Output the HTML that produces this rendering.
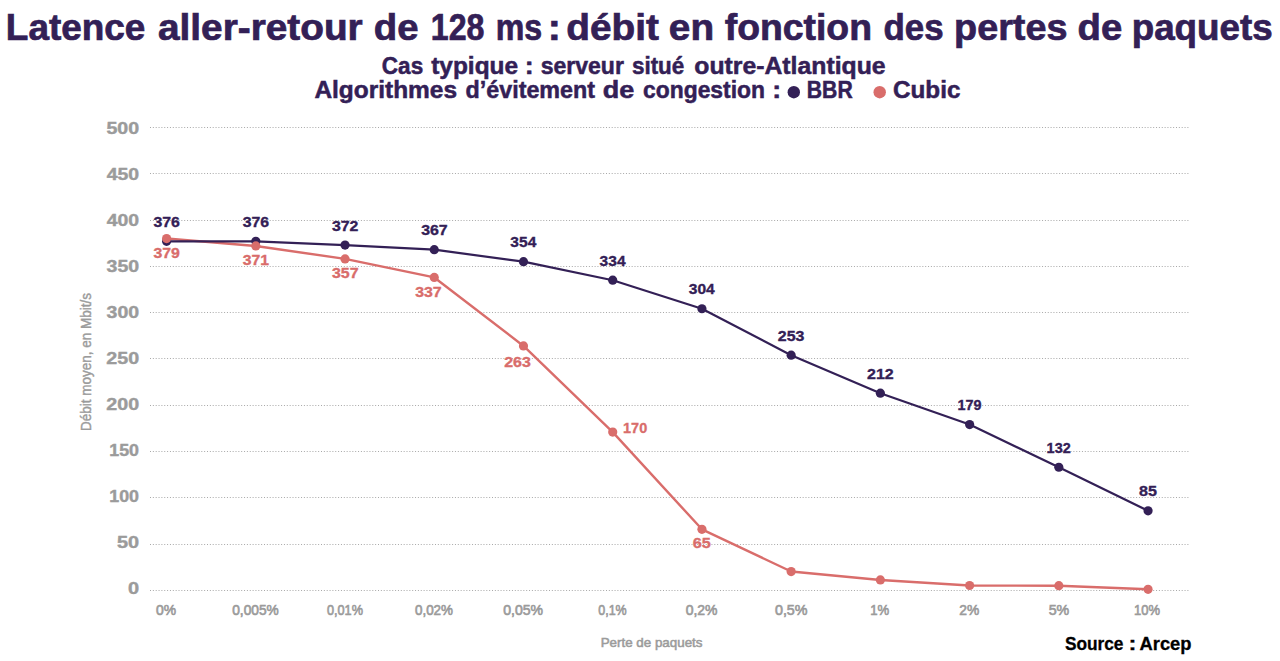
<!DOCTYPE html><html><head><meta charset="utf-8"><style>html,body{margin:0;padding:0;background:#fff;width:1280px;height:661px;overflow:hidden}svg{display:block}text{font-family:"Liberation Sans",sans-serif;white-space:pre}</style></head><body><svg width="1280" height="661" viewBox="0 0 1280 661"><text x="5.88" y="40" font-size="36" font-weight="bold" fill="#332056" stroke="#332056" stroke-width="0.7" textLength="139.53" lengthAdjust="spacingAndGlyphs">Latence</text><text x="157.96" y="40" font-size="36" font-weight="bold" fill="#332056" stroke="#332056" stroke-width="0.7" textLength="204.77" lengthAdjust="spacingAndGlyphs">aller-retour</text><text x="373.78" y="40" font-size="36" font-weight="bold" fill="#332056" stroke="#332056" stroke-width="0.7" textLength="44.68" lengthAdjust="spacingAndGlyphs">de</text><text x="430.83" y="40" font-size="36" font-weight="bold" fill="#332056" stroke="#332056" stroke-width="0.7" textLength="53.56" lengthAdjust="spacingAndGlyphs">128</text><text x="495.73" y="40" font-size="36" font-weight="bold" fill="#332056" stroke="#332056" stroke-width="0.7" textLength="46.49" lengthAdjust="spacingAndGlyphs">ms</text><text x="547.80" y="40" font-size="36" font-weight="bold" fill="#332056" stroke="#332056" stroke-width="0.7" textLength="13.14" lengthAdjust="spacingAndGlyphs">:</text><text x="566.26" y="40" font-size="36" font-weight="bold" fill="#332056" stroke="#332056" stroke-width="0.7" textLength="92.61" lengthAdjust="spacingAndGlyphs">débit</text><text x="668.84" y="40" font-size="36" font-weight="bold" fill="#332056" stroke="#332056" stroke-width="0.7" textLength="45.22" lengthAdjust="spacingAndGlyphs">en</text><text x="724.71" y="40" font-size="36" font-weight="bold" fill="#332056" stroke="#332056" stroke-width="0.7" textLength="147.25" lengthAdjust="spacingAndGlyphs">fonction</text><text x="883.42" y="40" font-size="36" font-weight="bold" fill="#332056" stroke="#332056" stroke-width="0.7" textLength="60.16" lengthAdjust="spacingAndGlyphs">des</text><text x="954.11" y="40" font-size="36" font-weight="bold" fill="#332056" stroke="#332056" stroke-width="0.7" textLength="113.34" lengthAdjust="spacingAndGlyphs">pertes</text><text x="1077.53" y="40" font-size="36" font-weight="bold" fill="#332056" stroke="#332056" stroke-width="0.7" textLength="44.68" lengthAdjust="spacingAndGlyphs">de</text><text x="1131.68" y="40" font-size="36" font-weight="bold" fill="#332056" stroke="#332056" stroke-width="0.7" textLength="140.98" lengthAdjust="spacingAndGlyphs">paquets</text><text x="381.83" y="74" font-size="23" font-weight="bold" fill="#332056" stroke="#332056" stroke-width="0.5" textLength="41.35" lengthAdjust="spacingAndGlyphs">Cas</text><text x="431.20" y="74" font-size="23" font-weight="bold" fill="#332056" stroke="#332056" stroke-width="0.5" textLength="86.88" lengthAdjust="spacingAndGlyphs">typique</text><text x="524.68" y="74" font-size="23" font-weight="bold" fill="#332056" stroke="#332056" stroke-width="0.5" textLength="8.88" lengthAdjust="spacingAndGlyphs">:</text><text x="540.69" y="74" font-size="23" font-weight="bold" fill="#332056" stroke="#332056" stroke-width="0.5" textLength="83.16" lengthAdjust="spacingAndGlyphs">serveur</text><text x="631.96" y="74" font-size="23" font-weight="bold" fill="#332056" stroke="#332056" stroke-width="0.5" textLength="52.30" lengthAdjust="spacingAndGlyphs">situé</text><text x="694.28" y="74" font-size="23" font-weight="bold" fill="#332056" stroke="#332056" stroke-width="0.5" textLength="191.31" lengthAdjust="spacingAndGlyphs">outre-Atlantique</text><text x="314.44" y="98" font-size="23" font-weight="bold" fill="#332056" stroke="#332056" stroke-width="0.5" textLength="142.56" lengthAdjust="spacingAndGlyphs">Algorithmes</text><text x="465.54" y="98" font-size="23" font-weight="bold" fill="#332056" stroke="#332056" stroke-width="0.5" textLength="129.49" lengthAdjust="spacingAndGlyphs">d’évitement</text><text x="602.89" y="98" font-size="23" font-weight="bold" fill="#332056" stroke="#332056" stroke-width="0.5" textLength="31.53" lengthAdjust="spacingAndGlyphs">de</text><text x="643.11" y="98" font-size="23" font-weight="bold" fill="#332056" stroke="#332056" stroke-width="0.5" textLength="121.81" lengthAdjust="spacingAndGlyphs">congestion</text><text x="772.18" y="98" font-size="23" font-weight="bold" fill="#332056" stroke="#332056" stroke-width="0.5" textLength="8.88" lengthAdjust="spacingAndGlyphs">:</text><text x="806.83" y="98" font-size="23" font-weight="bold" fill="#332056" stroke="#332056" stroke-width="0.5" textLength="45.85" lengthAdjust="spacingAndGlyphs">BBR</text><text x="893.00" y="98" font-size="23" font-weight="bold" fill="#332056" stroke="#332056" stroke-width="0.5" textLength="67.46" lengthAdjust="spacingAndGlyphs">Cubic</text><circle cx="793.8" cy="92.2" r="6.2" fill="#332056"/><circle cx="879.7" cy="92.2" r="6.2" fill="#d96d6b"/><line x1="150" y1="590.5" x2="1190" y2="590.5" stroke="#a8a8a8" stroke-width="1" stroke-dasharray="1 1.85"/><text x="128.01" y="594.0" font-size="16.2" font-weight="bold" fill="#9b9b9b" stroke="#9b9b9b" stroke-width="0.4" textLength="11.11" lengthAdjust="spacingAndGlyphs">0</text><line x1="150" y1="544.5" x2="1190" y2="544.5" stroke="#a8a8a8" stroke-width="1" stroke-dasharray="1 1.85"/><text x="116.99" y="548.0" font-size="16.2" font-weight="bold" fill="#9b9b9b" stroke="#9b9b9b" stroke-width="0.4" textLength="22.13" lengthAdjust="spacingAndGlyphs">50</text><line x1="150" y1="497.5" x2="1190" y2="497.5" stroke="#a8a8a8" stroke-width="1" stroke-dasharray="1 1.85"/><text x="109.28" y="501.9" font-size="16.2" font-weight="bold" fill="#9b9b9b" stroke="#9b9b9b" stroke-width="0.4" textLength="29.75" lengthAdjust="spacingAndGlyphs">100</text><line x1="150" y1="451.5" x2="1190" y2="451.5" stroke="#a8a8a8" stroke-width="1" stroke-dasharray="1 1.85"/><text x="109.28" y="455.9" font-size="16.2" font-weight="bold" fill="#9b9b9b" stroke="#9b9b9b" stroke-width="0.4" textLength="29.75" lengthAdjust="spacingAndGlyphs">150</text><line x1="150" y1="405.5" x2="1190" y2="405.5" stroke="#a8a8a8" stroke-width="1" stroke-dasharray="1 1.85"/><text x="106.32" y="409.8" font-size="16.2" font-weight="bold" fill="#9b9b9b" stroke="#9b9b9b" stroke-width="0.4" textLength="32.79" lengthAdjust="spacingAndGlyphs">200</text><line x1="150" y1="358.5" x2="1190" y2="358.5" stroke="#a8a8a8" stroke-width="1" stroke-dasharray="1 1.85"/><text x="106.32" y="363.8" font-size="16.2" font-weight="bold" fill="#9b9b9b" stroke="#9b9b9b" stroke-width="0.4" textLength="32.79" lengthAdjust="spacingAndGlyphs">250</text><line x1="150" y1="312.5" x2="1190" y2="312.5" stroke="#a8a8a8" stroke-width="1" stroke-dasharray="1 1.85"/><text x="106.55" y="317.8" font-size="16.2" font-weight="bold" fill="#9b9b9b" stroke="#9b9b9b" stroke-width="0.4" textLength="32.55" lengthAdjust="spacingAndGlyphs">300</text><line x1="150" y1="266.5" x2="1190" y2="266.5" stroke="#a8a8a8" stroke-width="1" stroke-dasharray="1 1.85"/><text x="106.55" y="271.7" font-size="16.2" font-weight="bold" fill="#9b9b9b" stroke="#9b9b9b" stroke-width="0.4" textLength="32.55" lengthAdjust="spacingAndGlyphs">350</text><line x1="150" y1="220.5" x2="1190" y2="220.5" stroke="#a8a8a8" stroke-width="1" stroke-dasharray="1 1.85"/><text x="106.71" y="225.7" font-size="16.2" font-weight="bold" fill="#9b9b9b" stroke="#9b9b9b" stroke-width="0.4" textLength="32.39" lengthAdjust="spacingAndGlyphs">400</text><line x1="150" y1="173.5" x2="1190" y2="173.5" stroke="#a8a8a8" stroke-width="1" stroke-dasharray="1 1.85"/><text x="106.71" y="179.6" font-size="16.2" font-weight="bold" fill="#9b9b9b" stroke="#9b9b9b" stroke-width="0.4" textLength="32.39" lengthAdjust="spacingAndGlyphs">450</text><line x1="150" y1="127.5" x2="1190" y2="127.5" stroke="#a8a8a8" stroke-width="1" stroke-dasharray="1 1.85"/><text x="106.40" y="133.6" font-size="16.2" font-weight="bold" fill="#9b9b9b" stroke="#9b9b9b" stroke-width="0.4" textLength="32.71" lengthAdjust="spacingAndGlyphs">500</text><text x="155.96" y="615.2" font-size="14.5" fill="#9b9b9b" stroke="#9b9b9b" stroke-width="0.65" textLength="20.04" lengthAdjust="spacingAndGlyphs">0%</text><text x="232.21" y="615.2" font-size="14.5" fill="#9b9b9b" stroke="#9b9b9b" stroke-width="0.65" textLength="46.52" lengthAdjust="spacingAndGlyphs">0,005%</text><text x="327.00" y="615.2" font-size="14.5" fill="#9b9b9b" stroke="#9b9b9b" stroke-width="0.65" textLength="35.95" lengthAdjust="spacingAndGlyphs">0,01%</text><text x="414.98" y="615.2" font-size="14.5" fill="#9b9b9b" stroke="#9b9b9b" stroke-width="0.65" textLength="38.00" lengthAdjust="spacingAndGlyphs">0,02%</text><text x="503.20" y="615.2" font-size="14.5" fill="#9b9b9b" stroke="#9b9b9b" stroke-width="0.65" textLength="39.80" lengthAdjust="spacingAndGlyphs">0,05%</text><text x="598.26" y="615.2" font-size="14.5" fill="#9b9b9b" stroke="#9b9b9b" stroke-width="0.65" textLength="28.43" lengthAdjust="spacingAndGlyphs">0,1%</text><text x="685.71" y="615.2" font-size="14.5" fill="#9b9b9b" stroke="#9b9b9b" stroke-width="0.65" textLength="31.79" lengthAdjust="spacingAndGlyphs">0,2%</text><text x="774.94" y="615.2" font-size="14.5" fill="#9b9b9b" stroke="#9b9b9b" stroke-width="0.65" textLength="32.57" lengthAdjust="spacingAndGlyphs">0,5%</text><text x="870.25" y="615.2" font-size="14.5" fill="#9b9b9b" stroke="#9b9b9b" stroke-width="0.65" textLength="18.97" lengthAdjust="spacingAndGlyphs">1%</text><text x="959.31" y="615.2" font-size="14.5" fill="#9b9b9b" stroke="#9b9b9b" stroke-width="0.65" textLength="19.94" lengthAdjust="spacingAndGlyphs">2%</text><text x="1048.68" y="615.2" font-size="14.5" fill="#9b9b9b" stroke="#9b9b9b" stroke-width="0.65" textLength="20.58" lengthAdjust="spacingAndGlyphs">5%</text><text x="1134.01" y="615.2" font-size="14.5" fill="#9b9b9b" stroke="#9b9b9b" stroke-width="0.65" textLength="25.95" lengthAdjust="spacingAndGlyphs">10%</text><text x="600.70" y="647" font-size="13.6" fill="#9b9b9b" stroke="#9b9b9b" stroke-width="0.55" textLength="101.78" lengthAdjust="spacingAndGlyphs">Perte de paquets</text><text transform="translate(91,429.8) rotate(-90)" x="-1.11" y="0" font-size="14" fill="#9b9b9b" stroke="#9b9b9b" stroke-width="0.4" textLength="137.99" lengthAdjust="spacingAndGlyphs">Débit moyen, en Mbit/s</text><text x="1064.90" y="650" font-size="18.5" font-weight="bold" fill="#000" stroke="#000" stroke-width="0.3" textLength="58.59" lengthAdjust="spacingAndGlyphs">Source</text><text x="1128.46" y="650" font-size="18.5" font-weight="bold" fill="#000" stroke="#000" stroke-width="0.3" textLength="7.93" lengthAdjust="spacingAndGlyphs">:</text><text x="1139.54" y="650" font-size="18.5" font-weight="bold" fill="#000" stroke="#000" stroke-width="0.3" textLength="51.96" lengthAdjust="spacingAndGlyphs">Arcep</text><polyline points="166.60,238.55 255.82,245.95 345.05,258.92 434.27,277.44 523.49,345.96 612.72,432.08 701.94,529.31 791.16,571.54 880.38,579.96 969.61,585.52 1058.83,585.70 1148.05,589.31" fill="none" stroke="#d96d6b" stroke-width="2.4" stroke-linejoin="round"/><polyline points="166.60,241.32 255.82,241.32 345.05,245.03 434.27,249.66 523.49,261.70 612.72,280.22 701.94,308.74 791.16,355.22 880.38,393.19 969.61,424.58 1058.83,467.27 1148.05,510.79" fill="none" stroke="#332056" stroke-width="2.2" stroke-linejoin="round"/><circle cx="166.60" cy="241.32" r="4.6" fill="#332056"/><circle cx="255.82" cy="241.32" r="4.6" fill="#332056"/><circle cx="345.05" cy="245.03" r="4.6" fill="#332056"/><circle cx="434.27" cy="249.66" r="4.6" fill="#332056"/><circle cx="523.49" cy="261.70" r="4.6" fill="#332056"/><circle cx="612.72" cy="280.22" r="4.6" fill="#332056"/><circle cx="701.94" cy="308.74" r="4.6" fill="#332056"/><circle cx="791.16" cy="355.22" r="4.6" fill="#332056"/><circle cx="880.38" cy="393.19" r="4.6" fill="#332056"/><circle cx="969.61" cy="424.58" r="4.6" fill="#332056"/><circle cx="1058.83" cy="467.27" r="4.6" fill="#332056"/><circle cx="1148.05" cy="510.79" r="4.6" fill="#332056"/><circle cx="166.60" cy="238.55" r="4.6" fill="#d96d6b"/><circle cx="255.82" cy="245.95" r="4.6" fill="#d96d6b"/><circle cx="345.05" cy="258.92" r="4.6" fill="#d96d6b"/><circle cx="434.27" cy="277.44" r="4.6" fill="#d96d6b"/><circle cx="523.49" cy="345.96" r="4.6" fill="#d96d6b"/><circle cx="612.72" cy="432.08" r="4.6" fill="#d96d6b"/><circle cx="701.94" cy="529.31" r="4.6" fill="#d96d6b"/><circle cx="791.16" cy="571.54" r="4.6" fill="#d96d6b"/><circle cx="880.38" cy="579.96" r="4.6" fill="#d96d6b"/><circle cx="969.61" cy="585.52" r="4.6" fill="#d96d6b"/><circle cx="1058.83" cy="585.70" r="4.6" fill="#d96d6b"/><circle cx="1148.05" cy="589.31" r="4.6" fill="#d96d6b"/><text x="153.49" y="226.8" font-size="15.5" font-weight="bold" fill="#332056" stroke="#332056" stroke-width="0.35" textLength="26.44" lengthAdjust="spacingAndGlyphs">376</text><text x="242.71" y="226.8" font-size="15.5" font-weight="bold" fill="#332056" stroke="#332056" stroke-width="0.35" textLength="26.44" lengthAdjust="spacingAndGlyphs">376</text><text x="331.93" y="230.5" font-size="15.5" font-weight="bold" fill="#332056" stroke="#332056" stroke-width="0.35" textLength="26.50" lengthAdjust="spacingAndGlyphs">372</text><text x="421.15" y="235.2" font-size="15.5" font-weight="bold" fill="#332056" stroke="#332056" stroke-width="0.35" textLength="26.57" lengthAdjust="spacingAndGlyphs">367</text><text x="510.39" y="247.2" font-size="15.5" font-weight="bold" fill="#332056" stroke="#332056" stroke-width="0.35" textLength="25.94" lengthAdjust="spacingAndGlyphs">354</text><text x="599.61" y="265.7" font-size="15.5" font-weight="bold" fill="#332056" stroke="#332056" stroke-width="0.35" textLength="25.94" lengthAdjust="spacingAndGlyphs">334</text><text x="688.83" y="294.2" font-size="15.5" font-weight="bold" fill="#332056" stroke="#332056" stroke-width="0.35" textLength="25.94" lengthAdjust="spacingAndGlyphs">304</text><text x="777.86" y="340.7" font-size="15.5" font-weight="bold" fill="#332056" stroke="#332056" stroke-width="0.35" textLength="26.63" lengthAdjust="spacingAndGlyphs">253</text><text x="867.08" y="378.7" font-size="15.5" font-weight="bold" fill="#332056" stroke="#332056" stroke-width="0.35" textLength="26.70" lengthAdjust="spacingAndGlyphs">212</text><text x="957.40" y="410.1" font-size="15.5" font-weight="bold" fill="#332056" stroke="#332056" stroke-width="0.35" textLength="24.04" lengthAdjust="spacingAndGlyphs">179</text><text x="1046.62" y="452.8" font-size="15.5" font-weight="bold" fill="#332056" stroke="#332056" stroke-width="0.35" textLength="24.09" lengthAdjust="spacingAndGlyphs">132</text><text x="1139.04" y="496.3" font-size="15.5" font-weight="bold" fill="#332056" stroke="#332056" stroke-width="0.35" textLength="17.96" lengthAdjust="spacingAndGlyphs">85</text><text x="153.49" y="257.8" font-size="15.5" font-weight="bold" fill="#d96d6b" stroke="#d96d6b" stroke-width="0.35" textLength="26.45" lengthAdjust="spacingAndGlyphs">379</text><text x="242.71" y="265.3" font-size="15.5" font-weight="bold" fill="#d96d6b" stroke="#d96d6b" stroke-width="0.35" textLength="26.30" lengthAdjust="spacingAndGlyphs">371</text><text x="331.93" y="278.2" font-size="15.5" font-weight="bold" fill="#d96d6b" stroke="#d96d6b" stroke-width="0.35" textLength="26.57" lengthAdjust="spacingAndGlyphs">357</text><text x="415.15" y="296.7" font-size="15.5" font-weight="bold" fill="#d96d6b" stroke="#d96d6b" stroke-width="0.35" textLength="26.57" lengthAdjust="spacingAndGlyphs">337</text><text x="504.19" y="366.8" font-size="15.5" font-weight="bold" fill="#d96d6b" stroke="#d96d6b" stroke-width="0.35" textLength="26.63" lengthAdjust="spacingAndGlyphs">263</text><text x="623.09" y="433.0" font-size="15.5" font-weight="bold" fill="#d96d6b" stroke="#d96d6b" stroke-width="0.35" textLength="24.10" lengthAdjust="spacingAndGlyphs">170</text><text x="692.84" y="548.2" font-size="15.5" font-weight="bold" fill="#d96d6b" stroke="#d96d6b" stroke-width="0.35" textLength="18.05" lengthAdjust="spacingAndGlyphs">65</text></svg></body></html>
